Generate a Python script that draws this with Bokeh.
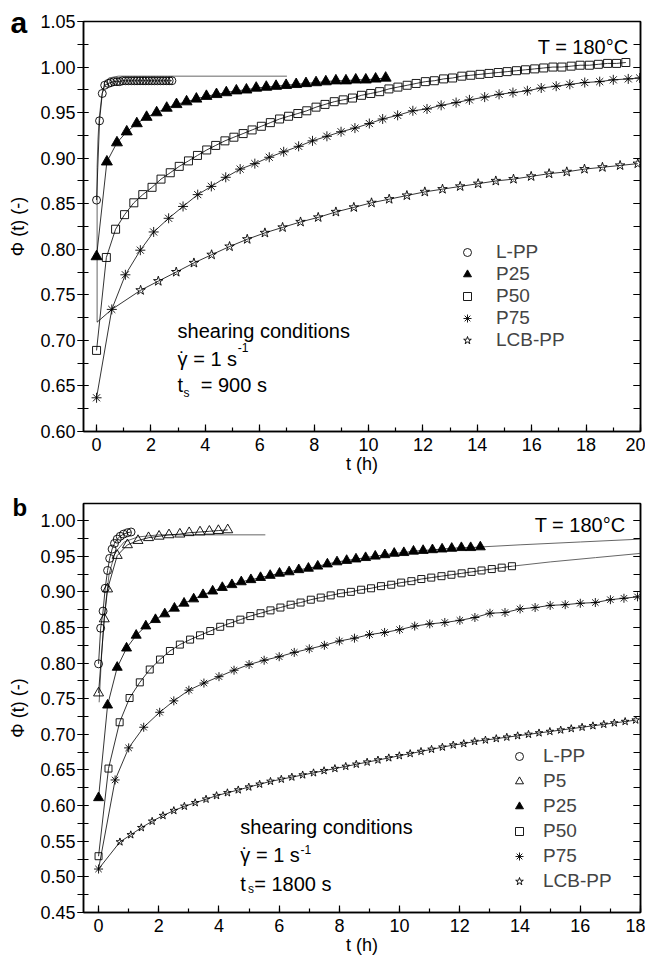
from bokeh.plotting import figure
from bokeh.models import (Range1d, LinearAxis, SingleIntervalTicker, PrintfTickFormatter,
                          CustomJSTickFormatter, Label, Legend, LegendItem)
from bokeh.layouts import column
from bokeh.embed import file_html
from bokeh.resources import INLINE

FONT = "Liberation Sans"

# ---------------- Panel a (t_s = 900 s) ----------------
LPP_A_T = [0.00, 0.11, 0.21, 0.30, 0.43, 0.53, 0.64, 0.75, 0.85, 0.96, 1.07, 1.17, 1.28, 1.39,
           1.49, 1.60, 1.71, 1.81, 1.92, 2.03, 2.13, 2.24, 2.35, 2.45, 2.56, 2.67, 2.77]
LPP_A_V = [0.854, 0.941, 0.971, 0.980, 0.982, 0.983, 0.984, 0.984, 0.984, 0.985, 0.985, 0.985,
           0.985, 0.985, 0.985, 0.985, 0.985, 0.985, 0.985, 0.985, 0.985, 0.985, 0.985, 0.985,
           0.985, 0.985, 0.985]
LPP_A_FIT_T = [0.02, 0.02, 0.05, 0.10, 0.20, 0.30, 0.45, 0.80, 1.50, 7.00]
LPP_A_FIT_V = [0.720, 0.890, 0.920, 0.945, 0.970, 0.983, 0.988, 0.990, 0.990, 0.990]

P25_A_T = [0.00, 0.38, 0.75, 1.11, 1.48, 1.84, 2.21, 2.58, 2.94, 3.31, 3.67, 4.04, 4.41, 4.77,
           5.14, 5.51, 5.87, 6.24, 6.60, 6.97, 7.34, 7.70, 8.07, 8.43, 8.80, 9.17, 9.53, 9.90,
           10.26, 10.63]
P25_A_V = [0.792, 0.896, 0.917, 0.929, 0.938, 0.945, 0.950, 0.955, 0.959, 0.962, 0.965, 0.968,
           0.970, 0.972, 0.974, 0.975, 0.977, 0.978, 0.979, 0.980, 0.981, 0.982, 0.983, 0.984,
           0.985, 0.985, 0.986, 0.986, 0.987, 0.988]

P50_A_T = [0.00, 0.36, 0.70, 1.03, 1.37, 1.70, 2.04, 2.37, 2.71, 3.04, 3.38, 3.71, 4.05, 4.38,
           4.72, 5.05, 5.39, 5.72, 6.06, 6.39, 6.73, 7.06, 7.40, 7.73, 8.07, 8.40, 8.74, 9.07,
           9.41, 9.74, 10.08, 10.41, 10.75, 11.08, 11.42, 11.75, 12.09, 12.42, 12.76, 13.09,
           13.43, 13.76, 14.10, 14.43, 14.77, 15.10, 15.44, 15.77, 16.11, 16.44, 16.78, 17.11,
           17.45, 17.78, 18.12, 18.45, 18.79, 19.12, 19.46]
P50_A_V = [0.689, 0.791, 0.822, 0.838, 0.851, 0.860, 0.868, 0.877, 0.884, 0.891, 0.897, 0.903,
           0.909, 0.914, 0.919, 0.923, 0.927, 0.931, 0.935, 0.939, 0.943, 0.946, 0.949, 0.952,
           0.956, 0.959, 0.962, 0.964, 0.966, 0.969, 0.971, 0.973, 0.976, 0.978, 0.980, 0.982,
           0.984, 0.985, 0.987, 0.988, 0.990, 0.991, 0.992, 0.993, 0.994, 0.995, 0.996, 0.997,
           0.998, 0.999, 1.000, 1.000, 1.001, 1.002, 1.002, 1.003, 1.004, 1.004, 1.005]

P75_A_T = [0.00, 0.56, 1.06, 1.61, 2.10, 2.65, 3.18, 3.72, 4.22, 4.75, 5.28, 5.82, 6.35, 6.88,
           7.43, 7.94, 8.47, 8.99, 9.50, 10.03, 10.52, 11.07, 11.63, 12.15, 12.67, 13.22, 13.71,
           14.27, 14.80, 15.31, 15.84, 16.35, 16.90, 17.40, 17.95, 18.50, 19.00, 19.55, 19.97]
P75_A_V = [0.637, 0.734, 0.772, 0.799, 0.819, 0.834, 0.847, 0.860, 0.869, 0.879, 0.888, 0.894,
           0.901, 0.907, 0.913, 0.919, 0.924, 0.929, 0.933, 0.938, 0.943, 0.947, 0.952, 0.954,
           0.958, 0.961, 0.964, 0.967, 0.970, 0.972, 0.974, 0.977, 0.979, 0.981, 0.983, 0.984,
           0.986, 0.987, 0.988]

LCB_A_LEAD_T = [0.02, 0.56, 1.62]
LCB_A_LEAD_V = [0.720, 0.734, 0.755]
LCB_A_T = [1.62, 2.27, 2.93, 3.58, 4.23, 4.89, 5.54, 6.19, 6.84, 7.50, 8.15, 8.80, 9.46, 10.11,
           10.76, 11.41, 12.07, 12.72, 13.37, 14.03, 14.68, 15.33, 15.98, 16.64, 17.29, 17.94,
           18.60, 19.25, 19.90]
LCB_A_V = [0.755, 0.765, 0.775, 0.785, 0.794, 0.803, 0.811, 0.818, 0.824, 0.830, 0.835, 0.841,
           0.846, 0.851, 0.855, 0.859, 0.863, 0.866, 0.869, 0.872, 0.875, 0.877, 0.880, 0.883,
           0.885, 0.888, 0.890, 0.892, 0.894]

# ---------------- Panel b (t_s = 1800 s) ----------------
LPP_B_T = [0.00, 0.07, 0.15, 0.22, 0.30, 0.37, 0.45, 0.53, 0.62, 0.72, 0.83, 0.96, 1.08]
LPP_B_V = [0.799, 0.849, 0.873, 0.905, 0.930, 0.947, 0.960, 0.968, 0.974, 0.978, 0.981, 0.983, 0.984]

P5_B_T = [0.00, 0.19, 0.30, 0.62, 0.96, 1.31, 1.66, 2.01, 2.34, 2.70, 3.01, 3.37, 3.68, 3.98, 4.29]
P5_B_V = [0.758, 0.862, 0.904, 0.951, 0.966, 0.972, 0.976, 0.978, 0.980, 0.981, 0.983, 0.984,
          0.985, 0.986, 0.987]
P5_B_FIT_T = [0.02, 0.10, 0.20, 0.35, 0.55, 0.85, 1.30, 2.00, 5.54]
P5_B_FIT_V = [0.745, 0.810, 0.870, 0.925, 0.955, 0.970, 0.977, 0.980, 0.980]

P25_B_T = [0.00, 0.30, 0.62, 0.93, 1.25, 1.57, 1.89, 2.20, 2.52, 2.84, 3.16, 3.47, 3.79, 4.11,
           4.43, 4.74, 5.06, 5.38, 5.70, 6.01, 6.33, 6.65, 6.97, 7.28, 7.60, 7.92, 8.24, 8.55,
           8.87, 9.19, 9.51, 9.82, 10.14, 10.46, 10.78, 11.09, 11.41, 11.73, 12.05, 12.36, 12.68]
P25_B_V = [0.611, 0.741, 0.794, 0.821, 0.839, 0.852, 0.861, 0.869, 0.877, 0.884, 0.890, 0.896,
           0.901, 0.906, 0.910, 0.914, 0.917, 0.920, 0.923, 0.926, 0.928, 0.931, 0.933, 0.936,
           0.939, 0.942, 0.944, 0.946, 0.948, 0.950, 0.952, 0.954, 0.955, 0.957, 0.958, 0.959,
           0.960, 0.961, 0.962, 0.962, 0.963]
P25_B_FIT_T = [12.68, 14.00, 16.00, 18.00]
P25_B_FIT_V = [0.963, 0.966, 0.970, 0.974]

P50_B_T = [0.00, 0.33, 0.70, 1.03, 1.37, 1.70, 2.04, 2.37, 2.70, 3.04, 3.37, 3.71, 4.04, 4.37,
           4.71, 5.04, 5.38, 5.71, 6.04, 6.38, 6.71, 7.05, 7.38, 7.71, 8.05, 8.38, 8.72, 9.05,
           9.38, 9.72, 10.05, 10.39, 10.72, 11.05, 11.39, 11.72, 12.06, 12.39, 12.72, 13.06,
           13.39, 13.73]
P50_B_V = [0.529, 0.652, 0.717, 0.751, 0.773, 0.791, 0.805, 0.817, 0.826, 0.833, 0.839, 0.845,
           0.851, 0.856, 0.861, 0.866, 0.870, 0.874, 0.878, 0.882, 0.885, 0.889, 0.892, 0.895,
           0.898, 0.900, 0.903, 0.905, 0.908, 0.910, 0.913, 0.915, 0.918, 0.920, 0.922, 0.924,
           0.926, 0.928, 0.930, 0.932, 0.934, 0.936]
P50_B_FIT_T = [13.73, 15.00, 16.50, 18.00]
P50_B_FIT_V = [0.936, 0.942, 0.948, 0.954]

P75_B_T = [0.00, 0.55, 1.00, 1.50, 2.03, 2.50, 3.00, 3.50, 4.00, 4.50, 5.00, 5.50, 6.00, 6.50,
           7.00, 7.50, 8.00, 8.50, 9.00, 9.50, 10.00, 10.50, 11.00, 11.50, 12.00, 12.50, 13.00,
           13.50, 14.00, 14.50, 15.00, 15.50, 16.00, 16.50, 17.00, 17.45, 17.90]
P75_B_V = [0.511, 0.636, 0.681, 0.710, 0.731, 0.747, 0.762, 0.772, 0.781, 0.790, 0.798, 0.804,
           0.809, 0.815, 0.820, 0.825, 0.831, 0.835, 0.840, 0.843, 0.847, 0.852, 0.855, 0.857,
           0.860, 0.864, 0.870, 0.871, 0.876, 0.878, 0.881, 0.882, 0.884, 0.885, 0.889, 0.891,
           0.893]

LCB_B_LEAD_T = [0.00, 0.71]
LCB_B_LEAD_V = [0.511, 0.549]
LCB_B_T = [0.71, 1.07, 1.42, 1.78, 2.14, 2.50, 2.85, 3.21, 3.57, 3.92, 4.28, 4.64, 4.99, 5.35,
           5.71, 6.07, 6.42, 6.78, 7.14, 7.49, 7.85, 8.21, 8.56, 8.92, 9.28, 9.64, 9.99, 10.35,
           10.71, 11.06, 11.42, 11.78, 12.13, 12.49, 12.85, 13.21, 13.56, 13.92, 14.28, 14.63,
           14.99, 15.35, 15.70, 16.06, 16.42, 16.78, 17.13, 17.49, 17.84]
LCB_B_V = [0.549, 0.559, 0.569, 0.578, 0.586, 0.593, 0.599, 0.604, 0.609, 0.614, 0.618, 0.622,
           0.626, 0.630, 0.634, 0.637, 0.640, 0.643, 0.646, 0.649, 0.652, 0.655, 0.658, 0.661,
           0.664, 0.667, 0.670, 0.673, 0.676, 0.679, 0.682, 0.685, 0.687, 0.690, 0.692, 0.694,
           0.696, 0.698, 0.700, 0.702, 0.704, 0.706, 0.708, 0.710, 0.712, 0.714, 0.716, 0.718,
           0.720]

X_LABEL = "t (h)"
Y_LABEL = "\u03a6 (t) (-)"


def make_fig(xr, yr, top, bottom, fh, letter, letter_size, standoff, offset):
    p = figure(frame_width=557, frame_height=fh, x_range=Range1d(*xr), y_range=Range1d(*yr),
               min_border_left=83, min_border_right=5, min_border_top=top,
               min_border_bottom=bottom, output_backend="svg", toolbar_location=None,
               title=letter)
    p.title.text_font = FONT
    p.title.text_font_size = letter_size
    p.title.text_font_style = "bold"
    p.title.text_color = "black"
    p.title.align = "left"
    p.title.vertical_align = "bottom"
    p.title.standoff = standoff
    p.title.offset = offset
    p.xgrid.visible = False
    p.ygrid.visible = False
    p.outline_line_color = "black"
    p.outline_line_width = 1.5
    xa, ya = p.xaxis[0], p.yaxis[0]
    xa.ticker = SingleIntervalTicker(interval=2, num_minor_ticks=2)
    ya.ticker = SingleIntervalTicker(interval=0.05, num_minor_ticks=2)
    ya.formatter = PrintfTickFormatter(format="%.2f")
    for ax in (xa, ya):
        ax.axis_line_color = "black"
        ax.axis_line_width = 1.5
        ax.major_tick_line_color = "black"
        ax.minor_tick_line_color = "black"
        ax.major_tick_line_width = 1.2
        ax.minor_tick_line_width = 1.2
        ax.major_label_text_font = FONT
        ax.major_label_text_font_size = "18px"
        ax.major_label_text_color = "black"
        ax.axis_label_text_font = FONT
        ax.axis_label_text_font_size = "18px"
        ax.axis_label_text_font_style = "normal"
        ax.axis_label_text_color = "black"
    xa.axis_label = X_LABEL
    ya.axis_label = Y_LABEL
    xa.major_tick_in = 7
    xa.major_tick_out = 0
    xa.minor_tick_in = 4
    xa.minor_tick_out = 0
    xa.major_label_standoff = 6
    xa.axis_label_standoff = 0
    ya.major_tick_in = 5
    ya.major_tick_out = 6
    ya.minor_tick_in = 5
    ya.minor_tick_out = 6
    ya.major_label_standoff = 2
    ya.axis_label_standoff = 9
    ra = LinearAxis(ticker=SingleIntervalTicker(interval=0.05, num_minor_ticks=2),
                    formatter=CustomJSTickFormatter(code="return ''"),
                    major_tick_in=7, major_tick_out=0, minor_tick_in=7, minor_tick_out=0,
                    major_label_standoff=0, axis_line_color="black", axis_line_width=1.5,
                    major_tick_line_width=1.2, minor_tick_line_width=1.2,
                    major_label_text_font_size="1px")
    p.add_layout(ra, "right")
    return p


def series(p, t, v, marker, size, filled=False, lead=None):
    if lead is not None:
        p.line(lead[0], lead[1], line_color="black", line_width=0.8)
    p.line(t, v, line_color="black", line_width=0.8)
    return p.scatter(t, v, marker=marker, size=size, line_color="black",
                     fill_color="black" if filled else None, line_width=0.9)


def fit(p, t, v):
    p.line(t, v, line_color="#666666", line_width=1.0)


def txt(p, x, y, s, size="20px", align="left"):
    p.add_layout(Label(x=x, y=y, text=s, text_font=FONT,
                       text_font_size=size, text_align=align, text_color="black",
                       text_baseline="alphabetic"))


def legend(p, items, loc, standoff, spacing):
    p.add_layout(Legend(items=[LegendItem(label=l, renderers=[r]) for l, r in items],
                        location=loc, glyph_width=20, glyph_height=20,
                        label_standoff=standoff, spacing=spacing, padding=0, margin=0,
                        border_line_color=None, background_fill_alpha=0,
                        label_text_font=FONT, label_text_font_size="19px"))


# ---------- figure a ----------
pa = make_fig((-0.48, 20), (0.60, 1.05), 21, 56, 410, "a", "30px", -35.5, -73)
fit(pa, LPP_A_FIT_T, LPP_A_FIT_V)
r_lpp = series(pa, LPP_A_T, LPP_A_V, "circle", 8)
r_p25 = series(pa, P25_A_T, P25_A_V, "triangle", 11, filled=True)
r_p50 = series(pa, P50_A_T, P50_A_V, "square", 8)
r_p75 = series(pa, P75_A_T, P75_A_V, "asterisk", 10)
r_lcb = series(pa, LCB_A_T, LCB_A_V, "star", 10, lead=(LCB_A_LEAD_T, LCB_A_LEAD_V))
legend(pa, [("L-PP", r_lpp), ("P25", r_p25), ("P50", r_p50), ("P75", r_p75),
            ("LCB-PP", r_lcb)], (374, 80), 19, -1)

txt(pa, 19.56, 1.0218, "T = 180\u00b0C", align="right")
txt(pa, 2.98, 0.7108, "shearing conditions")
txt(pa, 2.98, 0.6797, "\u03b3 = 1 s")
txt(pa, 3.155, 0.6797, "\u02d9", align="center")
txt(pa, 5.19, 0.6925, "-1", size="12px")
txt(pa, 2.98, 0.6515, "t")
txt(pa, 3.20, 0.6424, "s", size="12px")
txt(pa, 3.83, 0.6515, "= 900 s")

# ---------- figure b ----------
pb = make_fig((-0.5, 18), (0.45, 1.024), 16, 48, 409, "b", "24px", -34.2, -71)
fit(pb, P5_B_FIT_T, P5_B_FIT_V)
fit(pb, P25_B_FIT_T, P25_B_FIT_V)
fit(pb, P50_B_FIT_T, P50_B_FIT_V)
s_lpp = series(pb, LPP_B_T, LPP_B_V, "circle", 8)
s_p5 = series(pb, P5_B_T, P5_B_V, "triangle", 10)
s_p25 = series(pb, P25_B_T, P25_B_V, "triangle", 10, filled=True)
s_p50 = series(pb, P50_B_T, P50_B_V, "square", 7)
s_p75 = series(pb, P75_B_T, P75_B_V, "asterisk", 9)
s_lcb = series(pb, LCB_B_T, LCB_B_V, "star", 8, lead=(LCB_B_LEAD_T, LCB_B_LEAD_V))
legend(pb, [("L-PP", s_lpp), ("P5", s_p5), ("P25", s_p25), ("P50", s_p50), ("P75", s_p75),
            ("LCB-PP", s_lcb)], (426, 20), 14, 3)

txt(pb, 17.5, 0.994, "T = 180\u00b0C", align="right")
txt(pb, 4.71, 0.5706, "shearing conditions")
txt(pb, 4.71, 0.530, "\u03b3 = 1 s")
txt(pb, 4.868, 0.530, "\u02d9", align="center")
txt(pb, 6.71, 0.538, "-1", size="12px")
txt(pb, 4.71, 0.4902, "t")
txt(pb, 4.96, 0.4832, "s", size="12px")
txt(pb, 5.17, 0.4902, "= 1800 s")

layout = column(pa, pb, spacing=0)
open("out.html", "w").write(file_html(layout, INLINE))
